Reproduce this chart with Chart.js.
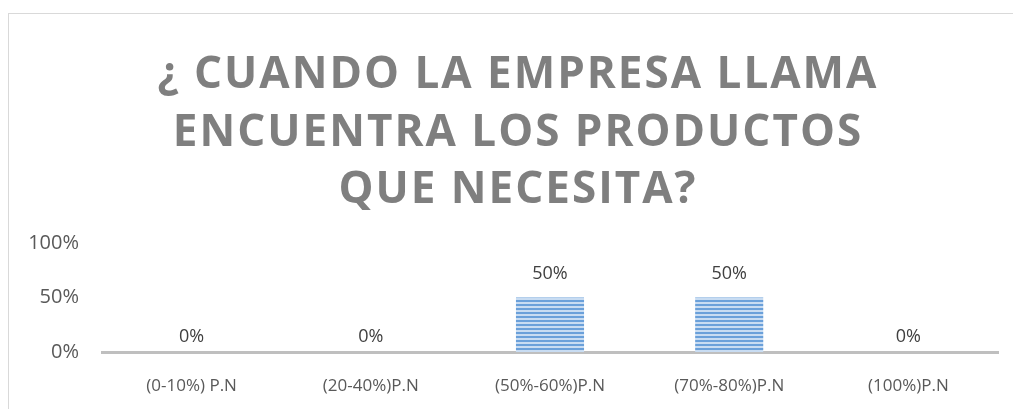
<!DOCTYPE html>
<html>
<head>
<meta charset="utf-8">
<script src="https://cdn.jsdelivr.net/npm/chart.js@4/dist/chart.umd.min.js"></script>
<style>
  html, body { margin:0; padding:0; background:#fff; }
  #wrap { position:relative; width:1013px; height:409px; overflow:hidden; }
  #frame { position:absolute; left:8px; top:13px; width:1100px; height:500px;
           border-left:1px solid #d9d9d9; border-top:1px solid #d9d9d9; box-sizing:border-box; }
  canvas { position:absolute; left:0; top:0; }
</style>
</head>
<body>
<div id="wrap">
  <div id="frame"></div>
  <canvas id="chart" width="1013" height="409"></canvas>
</div>
<script>
const categories = ['(0-10%) P.N', '(20-40%)P.N', '(50%-60%)P.N', '(70%-80%)P.N', '(100%)P.N'];
const values = [0, 0, 50, 50, 0];
const titleLines = ['¿ CUANDO LA EMPRESA LLAMA', 'ENCUENTRA LOS PRODUCTOS', 'QUE NECESITA?'];
const yTicks = [0, 50, 100];

// striped fill like the office "horizontal lines" pattern
function stripes() {
  const c = document.createElement('canvas');
  c.width = 4; c.height = 4;
  const g = c.getContext('2d');
  g.fillStyle = '#c8dcf2'; g.fillRect(0, 0, 4, 4);
  g.fillStyle = '#6aa0da'; g.fillRect(0, 0, 4, 2);
  return g.createPattern(c, 'repeat');
}

const titlePlugin = {
  id: 'bigTitle',
  afterDraw(chart) {
    const ctx = chart.ctx;
    ctx.save();
    ctx.font = 'bold 44px "Open Sans"';
    ctx.fillStyle = '#7f7f7f';
    ctx.textAlign = 'center';
    ctx.textBaseline = 'middle';
    ctx.letterSpacing = '2px';
    const ys = [75, 133, 190];
    titleLines.forEach((t, i) => ctx.fillText(t, 518, ys[i]));
    ctx.restore();
  }
};

const valueLabels = {
  id: 'valueLabels',
  afterDatasetsDraw(chart) {
    const ctx = chart.ctx;
    const meta = chart.getDatasetMeta(0);
    ctx.save();
    ctx.font = '18px "Open Sans"';
    ctx.fillStyle = '#404040';
    ctx.textAlign = 'center';
    ctx.textBaseline = 'middle';
    meta.data.forEach((bar, i) => {
      ctx.fillText(values[i] + '%', bar.x, bar.y - (values[i] > 0 ? 24 : 15));
    });
    ctx.restore();
  }
};

new Chart(document.getElementById('chart'), {
  type: 'bar',
  data: {
    labels: categories,
    datasets: [{ data: values, backgroundColor: stripes(), borderWidth: 0,
                 categoryPercentage: 1, barPercentage: 0.38 }]
  },
  options: {
    responsive: false,
    animation: false,
    layout: { padding: { top: 243, right: 15, left: 0, bottom: 0 } },
    plugins: { legend: { display: false }, title: { display: false }, tooltip: { enabled: false } },
    scales: {
      x: {
        grid: { display: false },
        border: { display: true, color: '#bfbfbf', width: 3 },
        ticks: { color: '#595959', font: { family: 'Open Sans', size: 17 }, padding: 16, maxRotation: 0 },
        afterFit: s => { s.height = 57; }
      },
      y: {
        min: 0, max: 100,
        grid: { display: false },
        border: { display: false },
        afterBuildTicks: s => { s.ticks = yTicks.map(v => ({ value: v })); },
        ticks: { color: '#595959', font: { family: 'Open Sans', size: 20 }, padding: 15,
                 callback: v => v + '%' },
        afterFit: s => { s.width = 102; }
      }
    }
  },
  plugins: [titlePlugin, valueLabels]
});
</script>
</body>
</html>
